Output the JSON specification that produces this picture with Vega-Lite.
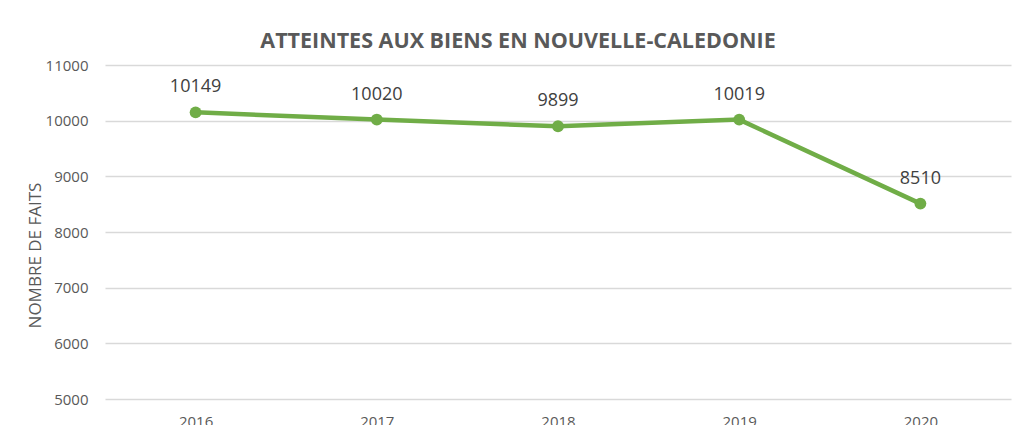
{
  "$schema": "https://vega.github.io/schema/vega-lite/v6.json",
  "autosize": {"type": "none"},
  "width": 906,
  "height": 334,
  "padding": {"left": 105, "top": 65, "right": 5, "bottom": 26},
  "background": "white",
  "title": {
    "text": "ATTEINTES AUX BIENS EN NOUVELLE-CALEDONIE",
    "font": "Open Sans",
    "fontSize": 21.5,
    "fontWeight": "bold",
    "color": "#595959",
    "anchor": "middle",
    "baseline": "alphabetic",
    "offset": 15,
    "dx": -40,
    "dy": 26
  },
  "data": {
    "values": [
      {"annee": "2016", "faits": 10149},
      {"annee": "2017", "faits": 10020},
      {"annee": "2018", "faits": 9899},
      {"annee": "2019", "faits": 10019},
      {"annee": "2020", "faits": 8510}
    ]
  },
  "encoding": {
    "x": {
      "field": "annee",
      "type": "ordinal",
      "scale": {"type": "point", "padding": 0.5},
      "axis": {
        "title": null,
        "labelAngle": 0,
        "labelFont": "Open Sans",
        "labelFontSize": 15,
        "labelColor": "#595959",
        "ticks": false,
        "domain": false,
        "labelPadding": 15,
        "grid": false
      }
    },
    "y": {
      "field": "faits",
      "type": "quantitative",
      "scale": {"domain": [5000, 11000], "nice": false, "zero": false},
      "axis": {
        "title": "NOMBRE DE FAITS",
        "titleFont": "Open Sans",
        "titleFontSize": 17,
        "titleFontWeight": "normal",
        "titleColor": "#595959",
        "titleAnchor": "middle",
        "titleBaseline": "alphabetic",
        "titleAngle": -90,
        "titleX": -65,
        "titleY": 190,
        "values": [5000, 6000, 7000, 8000, 9000, 10000, 11000],
        "format": "d",
        "labelFont": "Open Sans",
        "labelFontSize": 15,
        "labelColor": "#595959",
        "labelPadding": 17,
        "ticks": false,
        "domain": false,
        "grid": true,
        "gridColor": "#d9d9d9",
        "gridWidth": 1.5
      }
    }
  },
  "layer": [
    {
      "mark": {"type": "line", "color": "#70AD47", "strokeWidth": 4.5}
    },
    {
      "mark": {"type": "point", "filled": true, "color": "#70AD47", "opacity": 1, "size": 140}
    },
    {
      "mark": {
        "type": "text",
        "font": "Open Sans",
        "fontSize": 18,
        "color": "#404040",
        "baseline": "alphabetic",
        "dy": -20
      },
      "encoding": {"text": {"field": "faits", "type": "quantitative", "format": "d"}}
    }
  ],
  "config": {"view": {"stroke": null}}
}
